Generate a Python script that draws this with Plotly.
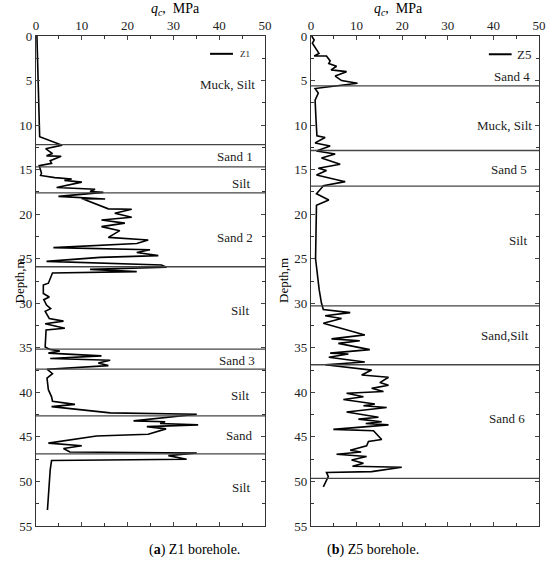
import plotly.graph_objects as go

# Z1 borehole, cone resistance qc (MPa) vs depth (m)
z1_depth = [0, 5, 10, 11.3, 12.25, 12.65, 13.2, 13.45, 13.5, 14.0, 14.3, 14.55, 15.4, 15.65,
            15.9, 16.05, 16.2, 16.4, 17.0, 17.2, 17.45, 17.55, 18.0, 18.3, 18.25, 19.4, 19.45,
            19.9, 20.35, 20.65, 21.0, 21.4, 21.85, 22.6, 22.9, 23.3, 23.75, 24.0, 24.3, 24.65,
            24.85, 25.3, 25.7, 25.95, 26.2, 26.45, 26.6, 27.75, 27.95, 28.9, 29.3, 29.6, 30.2,
            30.6, 30.9, 31.7, 32.0, 32.3, 32.8, 33.0, 34.9, 35.2, 35.35, 35.6, 35.9, 36.2, 36.4,
            36.7, 37.0, 37.4, 37.9, 38.4, 39.7, 40.5, 41.0, 41.35, 41.6, 42.3, 42.45, 43.2, 43.3,
            43.5, 43.65, 43.85, 44.1, 44.7, 44.9, 45.7, 46.0, 46.3, 46.7, 46.8, 47.1, 47.5, 47.65,
            48.7, 53.2]
z1_qc = [0.2, 0.4, 0.7, 0.8, 5.7, 2.1, 3.6, 2.3, 5.5, 3.1, 3.4, 0.7, 1.2, 1.0,
         4.1, 7.8, 6.2, 10.0, 4.5, 12.9, 11.8, 14.7, 4.9, 15.1, 10.0, 15.8, 20.9,
         17.2, 20.9, 14.3, 19.4, 14.3, 18.3, 15.8, 24.5, 22.0, 3.8, 24.9, 22.0, 26.7,
         14.0, 2.3, 27.4, 28.5, 11.8, 22.0, 3.6, 2.7, 1.6, 1.6, 2.9, 1.7, 2.3,
         3.2, 2.0, 2.9, 6.0, 2.0, 6.3, 2.2, 2.0, 3.1, 5.2, 2.7, 14.3, 3.1, 16.2,
         13.6, 15.8, 2.4, 3.6, 2.4, 2.7, 3.4, 3.6, 8.5, 3.4, 16.2, 35.1, 21.3, 28.2,
         27.1, 35.4, 24.2, 28.4, 24.5, 13.2, 2.7, 10.0, 6.0, 7.4, 35.1, 28.9, 32.9, 3.4,
         3.1, 2.5]

# Z5 borehole
z5_depth = [0, 0.45, 0.8, 1.6, 1.95, 2.25, 2.25, 2.8, 3.1, 3.4, 3.8, 4.0, 4.5, 5.0, 5.3,
            5.75, 5.9, 6.4, 7.2, 9.4, 11.2, 11.4, 12.0, 12.35, 12.9, 13.25, 13.7, 14.4, 14.85,
            15.1, 15.6, 16.35, 16.8, 17.0, 17.7, 18.4, 19.0, 25.0, 26.6, 28.5, 30.0, 30.7,
            31.05, 31.4, 31.7, 32.25, 33.55, 34.0, 34.2, 34.5, 35.2, 35.6, 35.7, 36.05, 36.6,
            36.9, 37.5, 38.05, 38.3, 38.9, 39.2, 39.55, 39.9, 40.1, 40.5, 40.8, 41.3, 41.5,
            41.7, 42.2, 42.8, 43.0, 43.3, 43.5, 43.65, 44.15, 44.3, 45.3, 45.5, 46.0, 46.5,
            46.7, 46.95, 47.2, 47.6, 47.95, 48.3, 48.4, 48.9, 49.0, 49.45, 50.6]
z5_qc = [0.15, 0.7, 0.3, 1.25, 1.75, 0.7, 3.4, 4.2, 3.9, 5.6, 4.4, 7.8, 5.3, 6.7, 10.2,
         3.1, 0.9, 1.6, 0.9, 1.1, 1.3, 3.1, 0.9, 4.2, 1.2, 5.3, 2.3, 6.4, 1.6,
         3.4, 1.2, 7.5, 2.7, 2.4, 1.2, 3.9, 1.2, 1.0, 1.3, 1.8, 2.3, 2.7,
         8.6, 3.1, 6.7, 2.7, 11.8, 4.5, 10.7, 6.0, 12.9, 4.2, 8.2, 3.9, 11.8,
         3.1, 13.3, 11.1, 17.0, 15.1, 17.0, 13.3, 15.9, 7.8, 11.5, 7.1, 14.0, 11.5,
         16.6, 7.8, 14.8, 10.4, 15.5, 12.0, 17.0, 4.9, 13.7, 15.5, 12.6, 12.2, 8.6,
         11.0, 5.6, 12.2, 8.9, 11.5, 9.1, 19.9, 13.3, 3.4, 3.8, 2.7]

# layer boundaries (depth, m)
z1_bounds = [12.2, 14.7, 17.6, 25.9, 35.15, 37.4, 42.65, 46.9]
z5_bounds = [5.6, 12.85, 16.85, 30.3, 36.9, 49.65]

# layer names and where they are written
z1_layers = ["Muck, Silt", "Sand 1", "Silt", "Sand 2", "Silt", "Sand 3", "Silt", "Sand", "Silt"]
z1_layer_x = [41.9, 43.4, 44.7, 43.4, 44.5, 43.8, 44.5, 44.4, 44.8]
z1_layer_y = [5.4, 13.5, 16.5, 22.6, 30.8, 36.4, 40.3, 44.8, 50.7]
z5_layers = ["Sand 4", "Muck, Silt", "Sand 5", "Silt", "Sand,Silt", "Sand 6"]
z5_layer_x = [44.0, 42.5, 43.5, 45.5, 42.5, 43.0]
z5_layer_y = [4.5, 10.1, 15.0, 22.9, 33.6, 42.9]

FONT = "Liberation Serif"
W, H = 550, 572


def fx(px):
    return px / W


def fy(py):
    return 1 - py / H


fig = go.Figure()
fig.add_trace(go.Scatter(x=z1_qc, y=z1_depth, mode="lines", line=dict(color="black", width=1.6),
                         xaxis="x", yaxis="y", showlegend=False))
fig.add_trace(go.Scatter(x=z5_qc, y=z5_depth, mode="lines", line=dict(color="black", width=1.6),
                         xaxis="x2", yaxis="y2", showlegend=False))

# legend-like keys inside each panel
fig.add_trace(go.Scatter(x=[38, 43], y=[2.0, 2.0], mode="lines", line=dict(color="black", width=2),
                         xaxis="x", yaxis="y", showlegend=False, hoverinfo="skip"))
fig.add_trace(go.Scatter(x=[39, 44], y=[2.05, 2.05], mode="lines", line=dict(color="black", width=2),
                         xaxis="x2", yaxis="y2", showlegend=False, hoverinfo="skip"))

shapes = []
for d in z1_bounds:
    shapes.append(dict(type="line", xref="x domain", yref="y", x0=0, x1=1, y0=d, y1=d,
                       line=dict(color="#444", width=1.3)))
for d in z5_bounds:
    shapes.append(dict(type="line", xref="x2 domain", yref="y2", x0=0, x1=1, y0=d, y1=d,
                       line=dict(color="#444", width=1.3)))

ann = []
for t, x, y in zip(z1_layers, z1_layer_x, z1_layer_y):
    ann.append(dict(text=t, x=x, y=y, xref="x", yref="y", showarrow=False,
                    font=dict(family=FONT, size=13, color="#222")))
for t, x, y in zip(z5_layers, z5_layer_x, z5_layer_y):
    ann.append(dict(text=t, x=x, y=y, xref="x2", yref="y2", showarrow=False,
                    font=dict(family=FONT, size=13, color="#222")))
ann.append(dict(text="Z1", x=44, y=2.0, xref="x", yref="y", xanchor="left", showarrow=False,
                font=dict(family=FONT, size=9, color="#222")))
ann.append(dict(text="Z5", x=44.7, y=2.05, xref="x2", yref="y2", xanchor="left", showarrow=False,
                font=dict(family=FONT, size=13, color="#222")))

for cx in [150, 424]:
    ann.append(dict(text="<i>q</i><sub><i>c</i></sub>,  MPa", x=fx(cx), y=fy(0), borderpad=0,
                    xref="paper", yref="paper", showarrow=False, yanchor="top",
                    font=dict(family=FONT, size=14, color="black")))
for cx in [9, 283]:
    ann.append(dict(text="Depth,m", x=fx(cx), y=fy(281), xref="paper", yref="paper",
                    textangle=-90, showarrow=False, font=dict(family=FONT, size=13, color="black")))
ann.append(dict(text="(<b>a</b>) Z1 borehole.", x=fx(147), y=fy(560), xref="paper",
                yref="paper", showarrow=False, font=dict(family=FONT, size=14, color="black")))
ann.append(dict(text="(<b>b</b>) Z5 borehole.", x=fx(421), y=fy(560), xref="paper",
                yref="paper", showarrow=False, font=dict(family=FONT, size=14, color="black")))

xax = dict(range=[0, 50], dtick=10, side="top", ticks="inside", ticklen=4, showline=True,
           linecolor="#333", linewidth=1.2, mirror="ticks", showgrid=False, zeroline=False,
           automargin=False, tickfont=dict(family=FONT, size=13, color="#222"),
           minor=dict(ticks="inside", dtick=5, ticklen=2.5, tickcolor="#333"))
yax = dict(range=[55, 0], dtick=5, ticks="inside", ticklen=4, showline=True, linecolor="#333",
           linewidth=1.2, mirror="ticks", showgrid=False, zeroline=False,
           automargin=False, tickfont=dict(family=FONT, size=13, color="#222"),
           minor=dict(ticks="inside", dtick=2.5, ticklen=2.5, tickcolor="#333"))

fig.update_layout(
    width=W, height=H, margin=dict(l=0, r=0, t=0, b=0),
    paper_bgcolor="white", plot_bgcolor="white",
    xaxis=dict(xax, domain=[fx(36), fx(265)], anchor="y"),
    yaxis=dict(yax, domain=[fy(526), fy(36)], anchor="x"),
    xaxis2=dict(xax, domain=[fx(311), fx(539)], anchor="y2"),
    yaxis2=dict(yax, domain=[fy(526), fy(36)], anchor="x2"),
    shapes=shapes, annotations=ann, showlegend=False,
)
# drop the page's default body margin so the plot sits at the window corner
fig.write_html("out.html", config={"displayModeBar": False},
               post_script="document.body.style.margin='0px';")
